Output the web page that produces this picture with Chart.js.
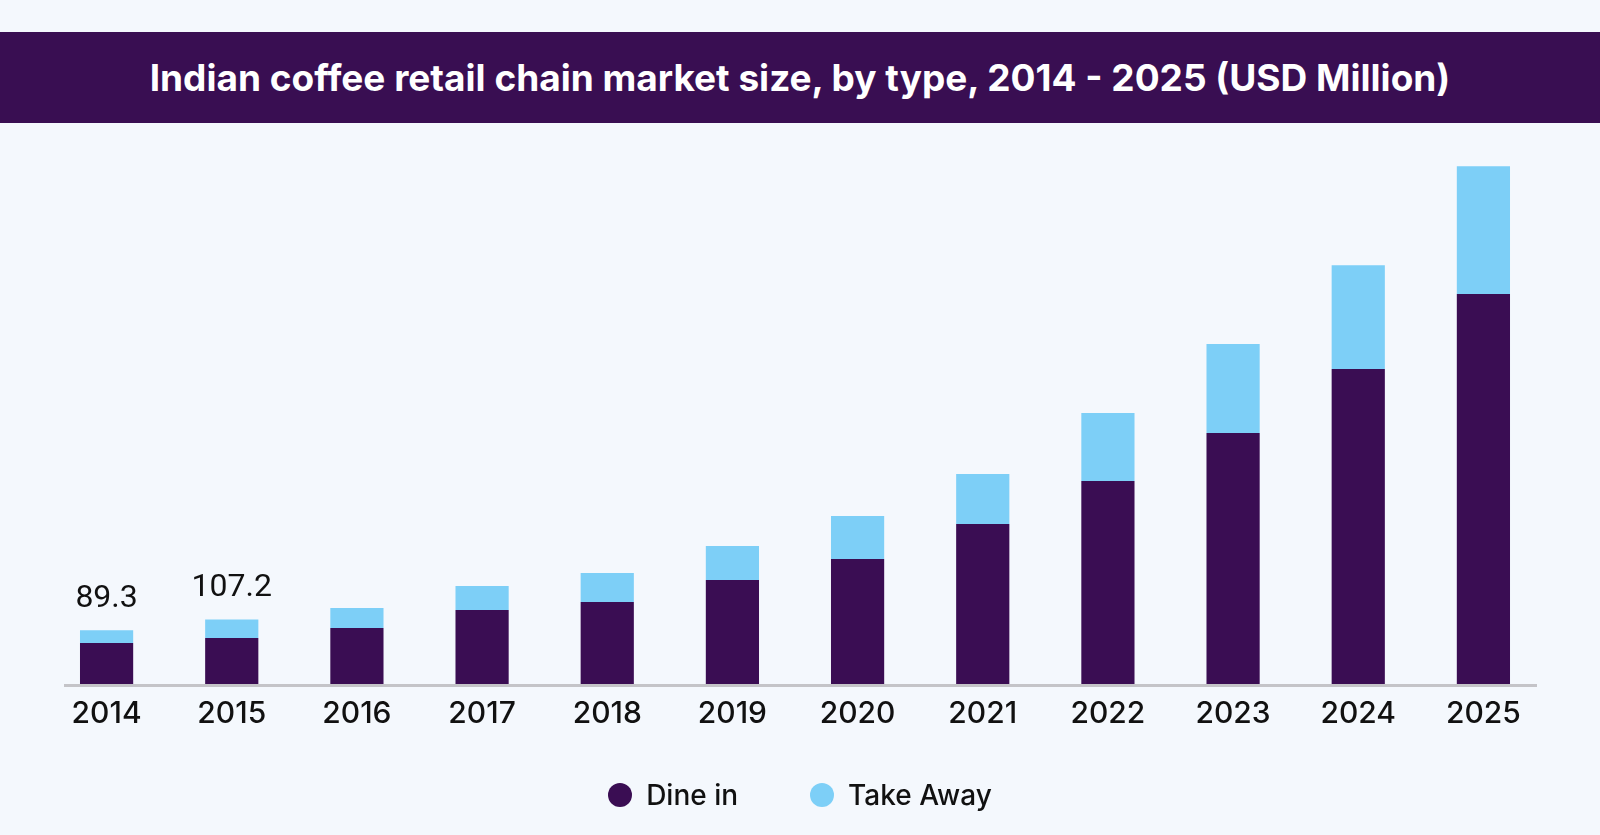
<!DOCTYPE html>
<html lang="en">
  <head>
    <meta charset="UTF-8" />
    <title>Indian coffee retail chain market size</title>
    <script src="https://cdn.jsdelivr.net/npm/chart.js"></script>
    <style>
      html, body { margin: 0; padding: 0; overflow: hidden; }
      body { width: 1600px; height: 835px; background: #f4f8fd; position: relative; font-family: Inter, sans-serif; }
      #title {
        position: absolute; left: 0; top: 32px; width: 1600px; height: 91px;
        background: #390e52; color: #fff; font-weight: 700; font-size: 37px;
        display: flex; align-items: center; justify-content: center;
      }
      #chart-wrap { position: absolute; left: 0; top: 0; width: 1600px; height: 835px; }
      #legend {
        position: absolute; left: 0; top: 775px; width: 1600px; height: 40px;
        display: flex; justify-content: center; align-items: center; gap: 72px;
        font-size: 28px; font-weight: 500; color: #111;
      }
      .item { display: flex; align-items: center; gap: 14px; }
      .dot { width: 24px; height: 24px; border-radius: 50%; }
    </style>
  </head>
  <body>
    <div id="chart-wrap"><canvas id="chart"></canvas></div>
    <div id="title">Indian coffee retail chain market size, by type, 2014 - 2025 (USD Million)</div>
    <div id="legend"></div>

    <script>
      const years = ["2014", "2015", "2016", "2017", "2018", "2019", "2020", "2021", "2022", "2023", "2024", "2025"];
      const dineIn = [68.1, 76.4, 93.0, 122.8, 136.1, 172.6, 207.5, 265.6, 337.0, 416.7, 522.9, 647.4];
      const takeAway = [21.2, 30.8, 33.2, 39.9, 48.2, 56.5, 71.4, 83.0, 112.9, 147.7, 172.6, 212.5];
      const shownTotals = ["89.3", "107.2", "", "", "", "", "", "", "", "", "", ""];

      const seriesNames = ["Dine in", "Take Away"];
      const seriesColors = ["#3a0d53", "#7dcff7"];

      // legend below the chart
      const legend = document.getElementById("legend");
      seriesNames.forEach((name, i) => {
        const item = document.createElement("div");
        item.className = "item";
        item.innerHTML = `<span class="dot" style="background:${seriesColors[i]}"></span><span>${name}</span>`;
        legend.appendChild(item);
      });

      // grey base line, a bit shorter than the plot area
      const baseLine = {
        id: "baseLine",
        beforeDatasetsDraw(chart) {
          const { ctx, chartArea } = chart;
          ctx.save();
          ctx.strokeStyle = "#c4c4c8";
          ctx.lineWidth = 3;
          ctx.beginPath();
          ctx.moveTo(chartArea.left + 20, chartArea.bottom + 1.5);
          ctx.lineTo(chartArea.right - 9, chartArea.bottom + 1.5);
          ctx.stroke();
          ctx.restore();
        },
      };

      const totalLabels = {
        id: "totalLabels",
        afterDatasetsDraw(chart) {
          const meta = chart.getDatasetMeta(1);
          const ctx = chart.ctx;
          ctx.save();
          ctx.font = "32px Roboto";
          ctx.fillStyle = "#111";
          ctx.textAlign = "center";
          ctx.textBaseline = "alphabetic";
          meta.data.forEach((bar, i) => {
            if (shownTotals[i]) ctx.fillText(shownTotals[i], bar.x, bar.y - 23);
          });
          ctx.restore();
        },
      };

      new Chart(document.getElementById("chart"), {
        type: "bar",
        data: {
          labels: years,
          datasets: [
            { label: seriesNames[0], data: dineIn, backgroundColor: seriesColors[0] },
            { label: seriesNames[1], data: takeAway, backgroundColor: seriesColors[1] },
          ],
        },
        options: {
          responsive: true,
          maintainAspectRatio: false,
          animation: false,
          barPercentage: 0.85,
          categoryPercentage: 0.5,
          layout: { padding: { top: 142, left: 44, right: 54, bottom: 91 } },
          plugins: {
            legend: { display: false },
            tooltip: { enabled: false },
          },
          scales: {
            x: {
              stacked: true,
              grid: { display: false, drawTicks: false },
              border: { display: false },
              ticks: { color: "#111", padding: 12, font: { family: "Inter", size: 30, weight: "500" } },
            },
            y: {
              stacked: true,
              display: false,
              min: 0,
              max: 900,
            },
          },
        },
        plugins: [baseLine, totalLabels],
      });
    </script>
  </body>
</html>
